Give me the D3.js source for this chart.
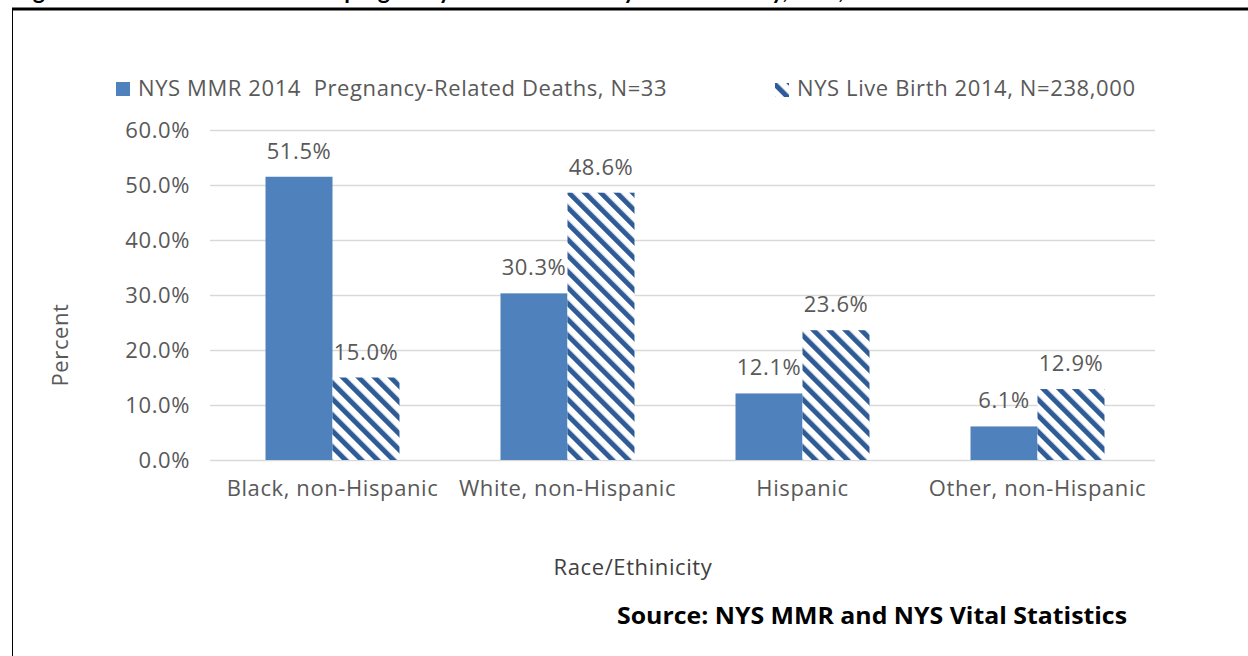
<!DOCTYPE html>
<html>
<head>
<meta charset="utf-8">
<script src="https://cdn.jsdelivr.net/npm/d3@7"></script>
<style>
  html, body { margin: 0; padding: 0; background: #fff; overflow: hidden; }
  svg { display: block; }
  .lbl { font-family: "Open Sans", Lato, sans-serif; fill: #595959; letter-spacing: 0.6px; }
</style>
</head>
<body>
<svg id="chart" width="1248" height="656"></svg>
<script>
// chart values
const categories = ["Black, non-Hispanic", "White, non-Hispanic", "Hispanic", "Other, non-Hispanic"];
const seriesNames = ["NYS MMR 2014  Pregnancy-Related Deaths, N=33", "NYS Live Birth 2014, N=238,000"];
const mmrDeaths = [51.5, 30.3, 12.1, 6.1];
const liveBirths = [15.0, 48.6, 23.6, 12.9];
const yTicks = [0, 10, 20, 30, 40, 50, 60];

const svg = d3.select("#chart");
const blue = "#4f81bd", hatch = "#2f5b97";
const fs = 22;

// Hatch pattern for the live birth series
const defs = svg.append("defs");
const pat = defs.append("pattern")
  .attr("id", "hatch")
  .attr("patternUnits", "userSpaceOnUse")
  .attr("width", 11.3).attr("height", 11.3)
  .attr("patternTransform", "rotate(-45)");
pat.append("rect").attr("width", 11.3).attr("height", 11.3).attr("fill", "#fff");
pat.append("rect").attr("width", 5).attr("height", 11.3).attr("fill", hatch);

// Frame (page box, partly cut off)
svg.append("line").attr("x1", 12).attr("x2", 1248).attr("y1", 9).attr("y2", 9)
  .attr("stroke", "#000").attr("stroke-width", 3);
svg.append("line").attr("x1", 12.5).attr("x2", 12.5).attr("y1", 8).attr("y2", 656)
  .attr("stroke", "#000").attr("stroke-width", 1);

// Figure title sits above the top of the picture, only its bottom is visible
svg.append("text")
  .attr("x", 14).attr("y", -1)
  .attr("font-family", "Lato, sans-serif")
  .attr("font-weight", "bold").attr("font-size", 23)
  .attr("fill", "#000")
  .text("Figure 4: Percent distribution of pregnancy-related deaths by race/ethnicity, NYS, 2014");

// Scales
const x0 = d3.scaleBand().domain(categories).range([215, 1155]);
const x1 = d3.scaleBand().domain([0, 1]).range([0, 134]);
const groupOff = (x0.bandwidth() - 134) / 2;
const y = d3.scaleLinear().domain([0, 60]).range([460, 130]);

// Gridlines + y labels
const yAxis = svg.append("g")
  .attr("transform", "translate(210,0)")
  .call(d3.axisLeft(y).tickValues(yTicks).tickSize(-945).tickFormat(d => d.toFixed(1) + "%"));
yAxis.select(".domain").remove();
yAxis.selectAll(".tick line").attr("stroke", "#d9d9d9").attr("stroke-width", 1.5);
yAxis.selectAll(".tick text")
  .attr("class", "lbl").attr("font-size", fs).attr("x", -20).attr("dy", "0.35em");

// Bars
const groups = svg.append("g").selectAll("g")
  .data(categories)
  .join("g")
  .attr("transform", d => `translate(${x0(d) + groupOff},0)`);

const rows = categories.map((c, i) => [mmrDeaths[i], liveBirths[i]]);

groups.selectAll("rect")
  .data((d, i) => rows[i].map((v, s) => ({ v, s })))
  .join("rect")
  .attr("x", d => x1(d.s))
  .attr("width", x1.bandwidth())
  .attr("y", d => y(d.v))
  .attr("height", d => y(0) - y(d.v))
  .attr("fill", d => d.s === 0 ? blue : "url(#hatch)");

groups.selectAll("text.val")
  .data((d, i) => rows[i].map((v, s) => ({ v, s })))
  .join("text")
  .attr("class", "val lbl")
  .attr("x", d => x1(d.s) + x1.bandwidth() / 2)
  .attr("y", d => y(d.v) - 18)
  .attr("text-anchor", "middle")
  .attr("font-size", fs)
  .text(d => d.v.toFixed(1) + "%");

// x category labels
const xAxis = svg.append("g")
  .attr("transform", "translate(0,460)")
  .call(d3.axisBottom(x0).tickSize(0));
xAxis.select(".domain").remove();
xAxis.selectAll(".tick text")
  .attr("class", "lbl").attr("font-size", fs).attr("dy", "1.5em");

// Axis titles
svg.append("text").attr("class", "lbl")
  .attr("transform", "translate(68,345) rotate(-90)")
  .attr("text-anchor", "middle").attr("font-size", fs)
  .text("Percent");
svg.append("text").attr("class", "lbl")
  .attr("x", 633).attr("y", 575)
  .attr("text-anchor", "middle").attr("font-size", fs)
  .style("fill", "#404040")
  .text("Race/Ethinicity");

// Legend
const legend = svg.append("g");
legend.append("rect").attr("x", 116).attr("y", 82).attr("width", 14).attr("height", 14).attr("fill", blue);
legend.append("text").attr("class", "lbl").attr("x", 138).attr("y", 96).attr("font-size", fs)
  .attr("xml:space", "preserve").text(seriesNames[0]);
legend.append("rect").attr("x", 775).attr("y", 83).attr("width", 14).attr("height", 14).attr("fill", "url(#hatch)");
legend.append("text").attr("class", "lbl").attr("x", 797).attr("y", 96).attr("font-size", fs).text(seriesNames[1]);

// Source note
svg.append("text")
  .attr("x", 1127).attr("y", 624)
  .attr("text-anchor", "end")
  .attr("font-family", "'Liberation Sans Narrow', 'Open Sans', sans-serif")
  .attr("font-weight", "bold").attr("font-size", 24)
  .attr("fill", "#000")
  .attr("textLength", 510).attr("lengthAdjust", "spacingAndGlyphs")
  .text("Source: NYS MMR and NYS Vital Statistics");
</script>
</body>
</html>
